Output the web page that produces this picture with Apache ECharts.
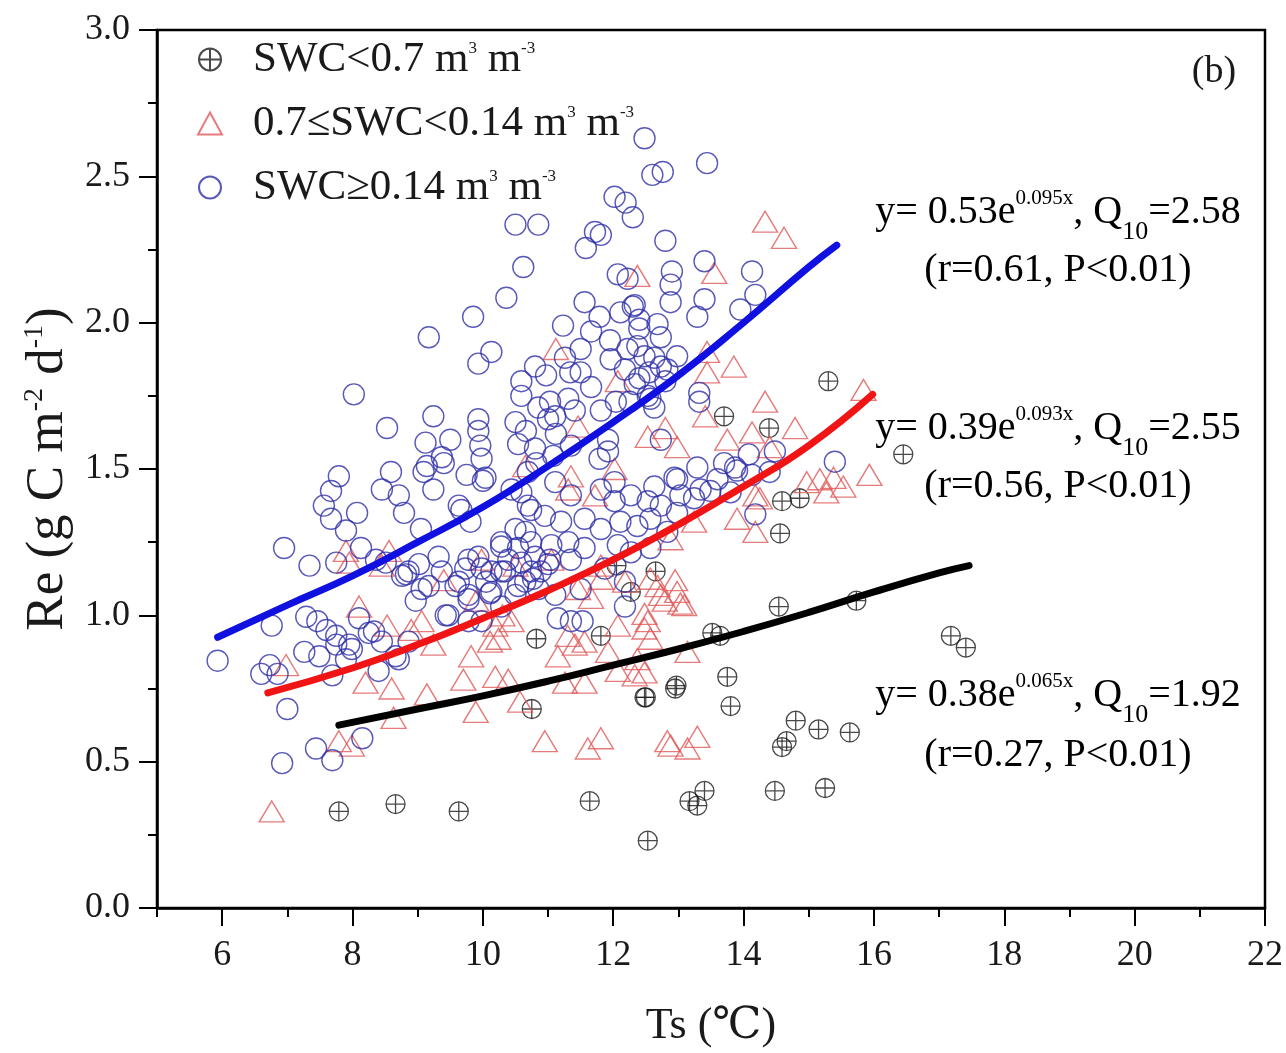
<!DOCTYPE html>
<html><head><meta charset="utf-8">
<script src="https://cdn.jsdelivr.net/npm/echarts@6/dist/echarts.min.js"></script>
<style>html,body{margin:0;padding:0;background:#fff}#c{width:1286px;height:1053px}</style>
</head><body><div id="c"></div>
<script>
// ---- axis ticks ----
const xTickValues = [6, 8, 10, 12, 14, 16, 18, 20, 22];
const xMinorTickValues = [5, 7, 9, 11, 13, 15, 17, 19, 21];
const yTickInterval = 0.5;

// ---- legend names ----
const seriesNames = ['SWC<0.7', '0.7≤SWC<0.14', 'SWC≥0.14'];

// ---- SWC < 0.7 (crossed circles) ----
const lowSWC = [
 [7.79,0.33],[8.66,0.355],[9.63,0.33],[10.75,0.68],[10.82,0.92],[11.64,0.365],[11.81,0.93],[12.53,0.23],
 [12.48,0.72],[12.5,0.72],[12.05,1.17],[12.65,1.15],[12.27,1.08],[12.95,0.75],[12.97,0.76],[13.17,0.365],
 [13.29,0.35],[13.4,0.40],[13.52,0.94],[13.64,0.93],[13.75,0.79],[13.8,0.69],[13.7,1.68],[14.39,1.64],
 [14.59,1.39],[14.86,1.40],[14.56,1.28],[14.54,1.03],[15.3,1.80],[16.45,1.55],[15.73,1.05],[17.18,0.93],
 [17.41,0.89],[14.59,0.55],[14.66,0.57],[14.8,0.64],[15.15,0.61],[15.63,0.60],[14.48,0.40],[15.25,0.41]
];

// ---- 0.7 <= SWC < 0.14 (triangles) ----
const midSWC = [
 [6.76,0.33],[6.98,0.83],[8.1,1.03],[8.53,0.965],[8.2,0.77],[8.6,0.75],[9.14,0.73],[8.63,0.65],[9.82,0.86],
 [9.7,0.78],[10.19,0.79],[9.89,0.67],[10.57,0.705],[10.95,0.57],[9.24,0.90],[8.9,0.95],[10.24,0.92],[10.44,0.98],
 [7.79,0.57],[7.99,0.555],[8.45,1.17],[7.95,1.18],[10.11,0.91],[11.15,0.86],[11.41,0.90],[11.61,0.545],
 [11.81,0.58],[11.26,0.77],[11.56,0.77],[12.07,0.81],[12.33,0.795],[11.92,0.875],[12.07,0.965],[12.48,0.955],
 [12.57,0.92],[12.83,0.57],[11.46,1.09],[11.66,1.06],[11.81,1.125],[12.18,1.115],[12.68,1.10],[12.79,1.05],
 [12.48,1.005],[11.3,0.93],[11.56,0.91],[10.19,0.965],[12.88,0.555],[13.14,0.545],[13.29,0.585],[12.98,1.08],
 [13.09,1.035],[12.37,0.85],[13.14,0.875],[10.39,0.78],[14.33,1.73],[13.41,1.68],[13.75,1.60],[14.13,1.625],
 [14.79,1.64],[12.53,1.61],[12.98,1.575],[14.4,1.575],[14.97,1.455],[15.17,1.465],[15.53,1.44],[15.93,1.48],
 [15.38,1.47],[14.18,1.41],[13.9,1.33],[13.24,1.32],[12.88,1.26],[12.57,1.125],[12.95,1.12],[12.73,1.07],
 [13.03,1.04],[12.53,0.98],[12.48,0.805],[14.33,2.345],[14.62,2.29],[13.55,2.17],[13.44,1.90],[13.44,1.83],
 [13.85,1.85],[15.84,1.77],[12.37,2.16],[11.12,1.91],[12.8,1.64],[11.46,1.645],[12.02,1.50],[10.65,1.51],
 [11.31,1.43],[11.72,1.41],[14.25,1.40],[15.27,1.42],[14.18,1.285],[10.5,1.17],[11.05,1.19],[11.81,1.17],
 [11.35,1.475],[12.07,1.80],[7.9,1.22],[8.56,1.22],[9.06,0.98],[9.98,1.19],[9.4,1.12],[9.9,1.05],[10.3,1.0]
];

// ---- SWC >= 0.14 (open circles) ----
const highSWC = [
 [10.5,2.335],[10.85,2.335],[10.62,2.19],[10.36,2.085],[9.85,2.02],[9.17,1.95],[10.13,1.90],[9.93,1.86],
 [8.02,1.755],[10.59,1.80],[10.8,1.85],[10.59,1.75],[9.24,1.68],[8.53,1.64],[9.93,1.67],[9.93,1.63],
 [10.5,1.66],[10.66,1.63],[9.12,1.59],[9.5,1.60],[9.96,1.58],[9.98,1.535],[9.37,1.54],[9.75,1.48],
 [10.04,1.47],[9.09,1.49],[9.24,1.43],[8.59,1.49],[8.45,1.43],[8.71,1.41],[7.79,1.475],[7.67,1.425],
 [7.56,1.375],[7.67,1.33],[8.07,1.35],[7.9,1.29],[8.79,1.35],[9.05,1.295],[9.67,1.36],[9.81,1.32],
 [6.95,1.23],[7.34,1.17],[7.75,1.18],[8.13,1.23],[8.51,1.18],[9.32,1.20],[9.93,1.20],[10.28,1.235],
 [10.8,1.20],[10.74,1.36],[10.59,1.42],[10.65,1.285],[9.73,1.16],[10.28,1.15],[9.37,1.15],[8.76,1.135],
 [9.17,1.10],[10.05,1.115],[10.65,1.115],[10.5,1.07],[9.78,1.07],
 [8.36,1.19],[8.82,1.14],[9.02,1.175],[9.06,1.09],[8.97,1.05],[6.76,0.965],[7.29,0.995],[7.46,0.98],
 [7.6,0.95],[8.1,0.99],[8.33,0.945],[7.75,0.90],[7.95,0.90],[7.26,0.875],[7.49,0.86],[5.93,0.845],
 [6.73,0.83],[6.6,0.80],[6.85,0.80],[8.66,0.86],[8.45,0.91],[8.86,0.91],
 [7.0,0.68],[6.92,0.495],[7.44,0.545],[7.69,0.505],[8.15,0.58],[7.75,0.93],[7.99,0.885],[8.25,0.94],
 [8.71,0.85],[8.4,0.81],[7.69,0.795],[7.9,0.85],[8.86,1.15],[9.63,1.115],[9.78,1.055],[9.98,1.16],
 [10.13,1.08],[10.34,1.15],[10.59,1.18],[10.85,1.09],[9.47,1.0],[9.78,0.98],[9.98,0.98],[10.28,1.03],[10.89,1.15],
 [11.56,2.07],[11.79,2.02],[12.11,2.035],[12.33,2.06],[12.4,2.01],[11.23,1.99],[11.66,1.97],[11.95,1.94],
 [12.22,1.91],[12.48,1.885],[11.5,1.91],[11.26,1.88],[11.96,1.875],[10.97,1.82],[11.34,1.83],[11.66,1.78],
 [12.18,1.84],[12.4,1.81],[11.03,1.73],[11.31,1.74],[11.81,1.70],[12.04,1.73],[12.57,1.74],[11.11,1.68],
 [11.12,1.62],[10.54,1.585],[10.8,1.57],[11.08,1.545],[11.35,1.58],[11.92,1.56],[11.79,1.535],[10.82,1.52],
 [9.14,1.51],[9.4,1.52],[10.0,1.46],[9.63,1.375],[10.44,1.43],[10.69,1.49],[11.11,1.455],[11.35,1.41],
 [11.81,1.43],[12.02,1.455],[12.27,1.41],[12.53,1.39],[12.02,1.39],[10.69,1.375],[10.95,1.34],[11.2,1.32],
 [11.56,1.33],[11.81,1.295],[12.11,1.32],[12.37,1.305],[12.57,1.33],[10.5,1.295],[10.28,1.25],[10.54,1.23],
 [10.74,1.25],[11.05,1.24],[11.31,1.25],[11.56,1.23],[12.07,1.24],[12.27,1.215],[12.57,1.23],[9.78,1.19],
 [11.72,2.31],[11.81,2.30],[11.58,2.255],[12.3,2.36],[12.19,2.41],[12.02,2.43],[12.8,2.28],[12.07,2.165],
 [12.22,2.15],[12.9,2.175],[12.88,2.13],[12.88,2.07],[13.4,2.21],[13.4,2.08],[13.29,2.02],[13.95,2.045],
 [14.13,2.175],[14.18,2.095],[12.3,2.055],[12.68,1.995],[12.73,1.95],[12.4,1.98],[12.98,1.885],[12.73,1.85],
 [13.32,1.76],[12.53,1.75],[12.33,1.79],[12.8,1.80],[11.5,1.83],[12.37,1.92],[10.85,1.71],[11.0,1.67],
 [11.41,1.70],[12.25,1.73],[11.92,1.60],[12.73,1.60],[13.29,1.505],[13.7,1.52],[13.87,1.505],[14.08,1.55],
 [14.13,1.48],[14.48,1.56],[15.4,1.525],[14.4,1.49],[14.18,1.345],[13.49,1.425],[13.8,1.42],[12.94,1.47],
 [12.63,1.44],[13.24,1.40],[12.98,1.35],[10.74,1.15],[11.0,1.175],[11.35,1.19],[11.87,1.16],[11.5,1.09],
 [12.18,1.115],[12.48,2.63],[13.44,2.545],[12.6,2.505],[12.76,2.515],[12.63,1.88],[12.55,1.83],[12.83,1.84],
 [12.63,1.71],[13.32,1.73],[12.98,1.465],[12.73,1.375],[13.03,1.41],[13.34,1.43],[13.6,1.465],[13.9,1.495],
 [12.83,1.285],[10.13,1.15],[10.39,1.19],[11.03,1.19],[9.58,1.10],[10.11,1.075],[10.54,1.10],[10.77,1.125],
 [11.11,1.07],[9.43,1.0],[11.15,0.99],[11.35,0.98],[11.53,0.98],[12.18,1.03]
];

// ---- fitted curves ----
const fitLow  = [[7.79,0.625],[9,0.68],[10,0.725],[11,0.775],[12,0.83],[13,0.885],[14,0.945],[15,1.01],[16,1.08],[17,1.145],[17.46,1.17]];
const fitMid  = [[6.7,0.735],[8,0.82],[9,0.90],[10,0.99],[11,1.085],[12,1.19],[13,1.31],[14,1.44],[15,1.58],[15.98,1.755]];
const fitHigh = [[5.93,0.925],[7,1.035],[8,1.135],[9,1.25],[10,1.37],[11,1.51],[12,1.66],[13,1.82],[14,2.0],[15,2.19],[15.43,2.265]];

// ---- annotation texts ----
const eqLines = [
 ['{m|y= 0.53e}{sp|0.095x}{m|, Q}{sb|10}{m|=2.58}', '{m|(r=0.61, P<0.01)}'],
 ['{m|y= 0.39e}{sp|0.093x}{m|, Q}{sb|10}{m|=2.55}', '{m|(r=0.56, P<0.01)}'],
 ['{m|y= 0.38e}{sp|0.065x}{m|, Q}{sb|10}{m|=1.92}', '{m|(r=0.27, P<0.01)}']
];
const eqY = [[212, 270], [428, 486], [695, 755]];

const FONT = "'Liberation Serif', 'Times New Roman', 'DejaVu Serif', serif";
const crossCircle = 'path://M0,10 A10,10 0 1,0 20,10 A10,10 0 1,0 0,10 Z M10,0 L10,20 M0,10 L20,10';

const legendText = {
  'SWC<0.7': '{g|}{m|SWC<0.7 m}{sp|3}{m| m}{sp|-3}',
  '0.7≤SWC<0.14': '{g|}{m|0.7≤SWC<0.14 m}{sp|3}{m| m}{sp|-3}',
  'SWC≥0.14': '{g|}{m|SWC≥0.14 m}{sp|3}{m| m}{sp|-3}'
};

const eqRich = {
  m: {fontFamily: FONT, fontSize: 40, color: '#1a1a1a', verticalAlign: 'middle'},
  sp: {fontFamily: FONT, fontSize: 21, color: '#1a1a1a', verticalAlign: 'middle', padding: [0, 0, 28, 0]},
  sb: {fontFamily: FONT, fontSize: 26, color: '#1a1a1a', verticalAlign: 'middle', padding: [40, 0, 0, 0]}
};

const graphics = [];
eqLines.forEach((pair, i) => {
  pair.forEach((t, j) => {
    graphics.push({type: 'text', x: 1058, y: eqY[i][j], z: 100,
      style: {text: t, align: 'center', verticalAlign: 'middle', textAlign: 'center', textVerticalAlign: 'middle', rich: eqRich}});
  });
});
graphics.push({type: 'text', x: 1214, y: 72, z: 100,
  style: {text: '(b)', align: 'center', verticalAlign: 'middle', font: "38px 'Liberation Serif', serif", fill: '#1a1a1a'}});

const chart = echarts.init(document.getElementById('c'), null, {renderer: 'canvas'});
chart.setOption({
  animation: false,
  backgroundColor: '#fff',
  grid: {left: 157, right: 16, top: 30, bottom: 143, show: true, borderColor: '#000', borderWidth: 2.5, backgroundColor: 'transparent'},
  legend: {
    orient: 'vertical', left: 192, top: 33, itemWidth: 24, itemHeight: 22, itemGap: 21,
    data: seriesNames,
    formatter: n => legendText[n],
    textStyle: {
      fontFamily: FONT, fontSize: 43, color: '#1a1a1a',
      rich: {
        g: {width: 26, height: 10},
        m: {fontFamily: FONT, fontSize: 43, color: '#1a1a1a', verticalAlign: 'middle', lineHeight: 44},
        sp: {fontFamily: FONT, fontSize: 17, color: '#1a1a1a', verticalAlign: 'middle', padding: [0, 0, 22, 0]}
      }
    }
  },
  xAxis: [{
    type: 'value', min: 5, max: 22, interval: 1, position: 'bottom',
    name: 'Ts (℃)', nameLocation: 'middle', nameGap: 96,
    nameTextStyle: {fontFamily: FONT + ", 'Noto Sans CJK SC'", fontSize: 44, color: '#1a1a1a'},
    axisLine: {show: true, onZero: false, lineStyle: {color: '#000', width: 2.5}},
    axisTick: {show: true, inside: false, length: 18, customValues: xTickValues, lineStyle: {color: '#000', width: 2}},
    axisLabel: {customValues: xTickValues, margin: 30, fontFamily: FONT, fontSize: 36, color: '#1a1a1a'},
    splitLine: {show: false}
  }, {
    type: 'value', min: 5, max: 22, interval: 1, position: 'bottom', gridIndex: 0,
    axisLine: {show: false},
    axisTick: {show: true, inside: false, length: 9, customValues: xMinorTickValues, lineStyle: {color: '#000', width: 2}},
    axisLabel: {show: false},
    splitLine: {show: false}
  }],
  yAxis: {
    type: 'value', min: 0, max: 3, interval: yTickInterval,
    name: '{t|Re (g C m}{s|-2}{t| d}{s|-1}{t|)}', nameLocation: 'middle', nameGap: 80, nameRotate: 90,
    nameTextStyle: {
      fontFamily: FONT, fontSize: 53, color: '#1a1a1a',
      rich: {
        t: {fontFamily: FONT, fontSize: 53, color: '#1a1a1a', verticalAlign: 'middle'},
        s: {fontFamily: FONT, fontSize: 28, color: '#1a1a1a', verticalAlign: 'middle', padding: [0, 0, 26, 0]}
      }
    },
    axisLine: {show: true, onZero: false, lineStyle: {color: '#000', width: 2.5}},
    axisTick: {show: true, inside: false, length: 18, lineStyle: {color: '#000', width: 2}},
    minorTick: {show: true, splitNumber: 2, length: 9, lineStyle: {color: '#000', width: 2}},
    axisLabel: {margin: 27, fontFamily: FONT, fontSize: 36, color: '#1a1a1a', formatter: v => v.toFixed(1)},
    splitLine: {show: false}
  },
  graphic: graphics,
  series: [
    {name: seriesNames[0], type: 'scatter', data: lowSWC, symbol: crossCircle, symbolSize: 19, z: 2,
     itemStyle: {color: 'rgba(0,0,0,0)', borderColor: '#1a1a1a', borderWidth: 1.3}},
    {name: seriesNames[1], type: 'scatter', data: midSWC, symbol: 'triangle', symbolSize: [25, 21], z: 3,
     itemStyle: {color: 'rgba(0,0,0,0)', borderColor: '#e05a5a', borderWidth: 1.4}},
    {name: seriesNames[2], type: 'scatter', data: highSWC, symbol: 'circle', symbolSize: 21, z: 4,
     itemStyle: {color: 'rgba(0,0,0,0)', borderColor: '#3030a8', borderWidth: 1.4}},
    {type: 'line', data: fitLow, showSymbol: false, smooth: true, z: 10, silent: true,
     lineStyle: {color: '#000', width: 7, cap: 'round'}},
    {type: 'line', data: fitMid, showSymbol: false, smooth: true, z: 10, silent: true,
     lineStyle: {color: '#f01414', width: 7, cap: 'round'}},
    {type: 'line', data: fitHigh, showSymbol: false, smooth: true, z: 10, silent: true,
     lineStyle: {color: '#1010e0', width: 7, cap: 'round'}}
  ]
});
</script></body></html>
